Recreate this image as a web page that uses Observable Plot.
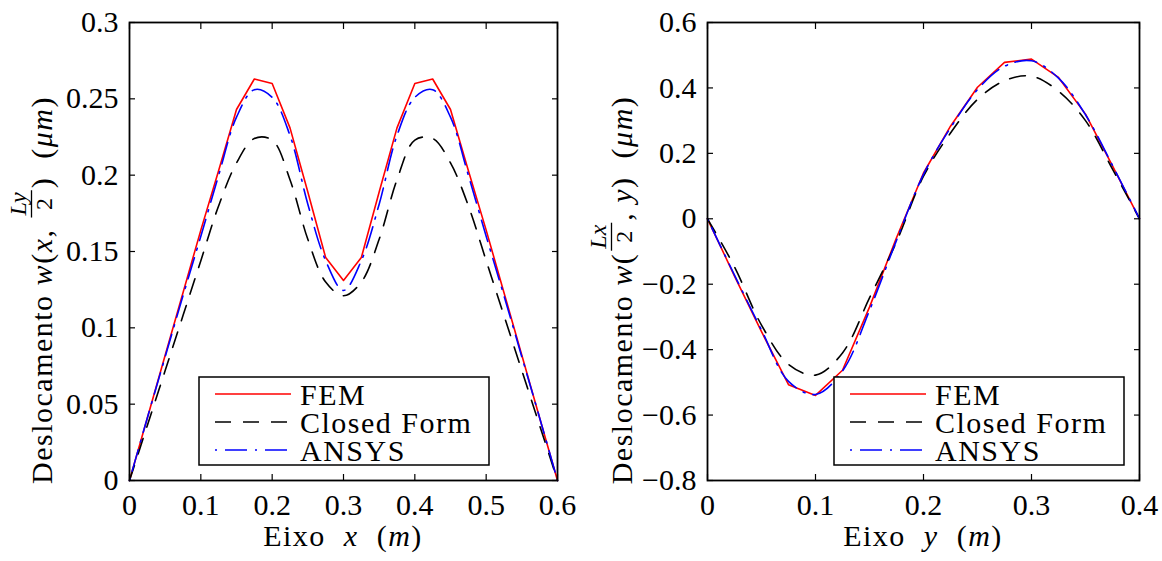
<!DOCTYPE html>
<html>
<head>
<meta charset="utf-8">
<script src="https://cdn.jsdelivr.net/npm/d3@7"></script>
<script src="https://cdn.jsdelivr.net/npm/@observablehq/plot@0.6"></script>
<style>
  body { margin: 0; background: #fff; }
  #fig { display: flex; width: 1162px; height: 561px; }
</style>
</head>
<body>
<div id="fig"></div>
<script>
// Sampling positions along the plate (m)
const xAlong = [0, 0.025, 0.05, 0.075, 0.1, 0.125, 0.15, 0.175, 0.2, 0.225, 0.25, 0.275, 0.3,
                0.325, 0.35, 0.375, 0.4, 0.425, 0.45, 0.475, 0.5, 0.525, 0.55, 0.575, 0.6];
const yAlong = [0, 0.025, 0.05, 0.075, 0.1, 0.125, 0.15, 0.175, 0.2,
                0.225, 0.25, 0.275, 0.3, 0.325, 0.35, 0.375, 0.4];

// Displacement w(x, Ly/2) in micrometres
const femX    = [0, 0.041, 0.082, 0.123, 0.164, 0.203, 0.243, 0.263, 0.26, 0.231, 0.189, 0.146, 0.131,
                 0.146, 0.189, 0.231, 0.26, 0.263, 0.243, 0.203, 0.164, 0.123, 0.082, 0.041, 0];
const closedX = [0, 0.036, 0.072, 0.108, 0.144, 0.18, 0.208, 0.224, 0.223, 0.197, 0.158, 0.13, 0.121,
                 0.13, 0.158, 0.197, 0.223, 0.224, 0.208, 0.18, 0.144, 0.108, 0.072, 0.036, 0];
const ansysX  = [0, 0.041, 0.081, 0.121, 0.16, 0.2, 0.238, 0.256, 0.251, 0.226, 0.181, 0.144, 0.1245,
                 0.144, 0.181, 0.226, 0.251, 0.256, 0.238, 0.2, 0.16, 0.121, 0.081, 0.041, 0];

// Displacement w(Lx/2, y) in micrometres
const femY    = [0, -0.175, -0.345, -0.507, -0.54, -0.463, -0.27, -0.058, 0.14,
                 0.283, 0.402, 0.478, 0.488, 0.432, 0.32, 0.162, 0];
const closedY = [0, -0.147, -0.325, -0.445, -0.478, -0.41, -0.242, -0.07, 0.13,
                 0.262, 0.365, 0.422, 0.436, 0.39, 0.3, 0.152, 0];
const ansysY  = [0, -0.172, -0.34, -0.497, -0.537, -0.465, -0.28, -0.066, 0.136,
                 0.278, 0.395, 0.466, 0.483, 0.43, 0.318, 0.163, 0];

// Axis ticks
const xTicksLeft  = [0, 0.1, 0.2, 0.3, 0.4, 0.5, 0.6];
const yTicksLeft  = [0, 0.05, 0.1, 0.15, 0.2, 0.25, 0.3];
const xTicksRight = [0, 0.1, 0.2, 0.3, 0.4];
const yTicksRight = [-0.8, -0.6, -0.4, -0.2, 0, 0.2, 0.4, 0.6];

const seriesNames = ["FEM", "Closed Form", "ANSYS"];
const seriesStroke = {"FEM": "#ff0000", "Closed Form": "#000000", "ANSYS": "#0000ff"};
const seriesDash = {"FEM": null, "Closed Form": "16,12", "ANSYS": "2,8,22,8"};
const seriesCurve = {"FEM": "linear", "Closed Form": "catmull-rom", "ANSYS": "catmull-rom"};

const FONT = "'Liberation Serif', 'Times New Roman', serif";
const NS = "http://www.w3.org/2000/svg";
const SPACING = 1.5; // extra tracking for titles and legend entries

const fmt = d => d === 0 ? "0" : (d < 0 ? "\u2212" : "") + String(+Math.abs(d).toFixed(2));
const blank = () => "";

function panel({along, values, xDomain, yDomain, xTicks, yTicks, marginLeft, marginRight}) {
  const lines = seriesNames.map((name, k) =>
    Plot.line(along.map((a, i) => ({a, v: values[k][i]})), {
      x: "a", y: "v",
      stroke: seriesStroke[name],
      strokeWidth: 1.6,
      strokeDasharray: seriesDash[name],
      curve: seriesCurve[name]
    }));
  return Plot.plot({
    width: 581, height: 561,
    marginLeft, marginRight, marginTop: 22, marginBottom: 81,
    style: {fontFamily: FONT, fontSize: "30px", color: "black", background: "white", overflow: "visible"},
    x: {domain: xDomain},
    y: {domain: yDomain},
    marks: [
      ...lines,
      Plot.axisX(xTicks, {anchor: "bottom", tickSize: -6, tickPadding: 19, tickFormat: fmt, label: null, strokeWidth: 1.2}),
      Plot.axisX(xTicks, {anchor: "top", tickSize: -6, tickFormat: blank, label: null, strokeWidth: 1.2}),
      Plot.axisY(yTicks, {anchor: "left", tickSize: -6, tickPadding: 17, tickFormat: fmt, label: null, strokeWidth: 1.2}),
      Plot.axisY(yTicks, {anchor: "right", tickSize: -6, tickFormat: blank, label: null, strokeWidth: 1.2}),
      Plot.frame({stroke: "black", strokeWidth: 1.8})
    ]
  });
}

function el(tag, attrs, parent) {
  const e = document.createElementNS(NS, tag);
  for (const k in attrs) e.setAttribute(k, attrs[k]);
  if (parent) parent.appendChild(e);
  return e;
}

function txt(parent, s, x, y, size, italic, anchor, spacing) {
  const t = el("text", {
    x, y, "font-family": FONT, "font-size": size, fill: "black",
    "text-anchor": anchor || "start",
    style: `white-space:pre;letter-spacing:${spacing || 0}px`
  }, parent);
  if (italic) t.setAttribute("font-style", "italic");
  t.textContent = s;
  return t;
}

// Rotated y-axis title with an inline fraction
function yTitle(svg, parts, bx, cy) {
  const g = el("g", {transform: `translate(${bx},${cy}) rotate(-90)`}, svg);
  const inner = el("g", {}, g);
  let u = 0;
  for (const p of parts) {
    if (p.frac) {
      const n = txt(inner, p.frac[0], 0, -26, 24, true, "middle");
      const d = txt(inner, p.frac[1], 0, 0, 24, false, "middle");
      const w = Math.max(n.getComputedTextLength(), d.getComputedTextLength()) + 4;
      n.setAttribute("x", u + 2 + w / 2);
      d.setAttribute("x", u + 2 + w / 2);
      el("line", {x1: u + 2, x2: u + 2 + w, y1: -20.5, y2: -20.5, stroke: "black", "stroke-width": 1.3}, inner);
      u += w + 4;
    } else {
      const t = txt(inner, p.t, u, 0, 30, p.i, "start", SPACING);
      u += t.getComputedTextLength();
    }
  }
  inner.setAttribute("transform", `translate(${-u / 2},0)`);
}

function xTitle(svg, variable, cx, by) {
  const t = el("text", {
    x: cx, y: by, "font-family": FONT, "font-size": 30, "text-anchor": "middle",
    fill: "black", style: `white-space:pre;letter-spacing:${SPACING}px`
  }, svg);
  const a = el("tspan", {}, t); a.textContent = "Eixo  ";
  const b = el("tspan", {"font-style": "italic"}, t); b.textContent = variable;
  const c = el("tspan", {}, t); c.textContent = "  (";
  const d = el("tspan", {"font-style": "italic"}, t); d.textContent = "m";
  const e = el("tspan", {}, t); e.textContent = ")";
}

function legend(svg, left, top) {
  el("rect", {x: left, y: top, width: 290, height: 88, fill: "white", stroke: "black", "stroke-width": 1.5}, svg);
  seriesNames.forEach((name, i) => {
    const yLine = top + 17 + 28 * i;
    const ln = el("line", {x1: left + 16, x2: left + 92, y1: yLine, y2: yLine,
      stroke: seriesStroke[name], "stroke-width": 1.6}, svg);
    if (seriesDash[name]) ln.setAttribute("stroke-dasharray", seriesDash[name]);
    txt(svg, name, left + 101, top + 28 + 28 * i, 30, false, "start", SPACING);
  });
}

const fig = document.getElementById("fig");

const left = panel({
  along: xAlong, values: [femX, closedX, ansysX],
  xDomain: [0, 0.6], yDomain: [0, 0.3],
  xTicks: xTicksLeft, yTicks: yTicksLeft,
  marginLeft: 129, marginRight: 24
});
fig.appendChild(left);

const right = panel({
  along: yAlong, values: [femY, closedY, ansysY],
  xDomain: [0, 0.4], yDomain: [-0.8, 0.6],
  xTicks: xTicksRight, yTicks: yTicksRight,
  marginLeft: 126, marginRight: 23
});
fig.appendChild(right);

legend(left, 199, 377);
legend(right, 253, 377);

xTitle(left, "x", 343, 546);
xTitle(right, "y", 342, 546);

yTitle(left, [
  {t: "Deslocamento "}, {t: "w", i: true}, {t: "("}, {t: "x", i: true}, {t: ", "},
  {frac: ["Ly", "2"]}, {t: ")"}, {t: "  ("}, {t: "\u03bcm", i: true}, {t: ")"}
], 52, 290);

yTitle(right, [
  {t: "Deslocamento "}, {t: "w", i: true}, {t: "("},
  {frac: ["Lx", "2"]}, {t: ", "}, {t: "y", i: true}, {t: ")"}, {t: "  ("}, {t: "\u03bcm", i: true}, {t: ")"}
], 51, 290);
</script>
</body>
</html>
